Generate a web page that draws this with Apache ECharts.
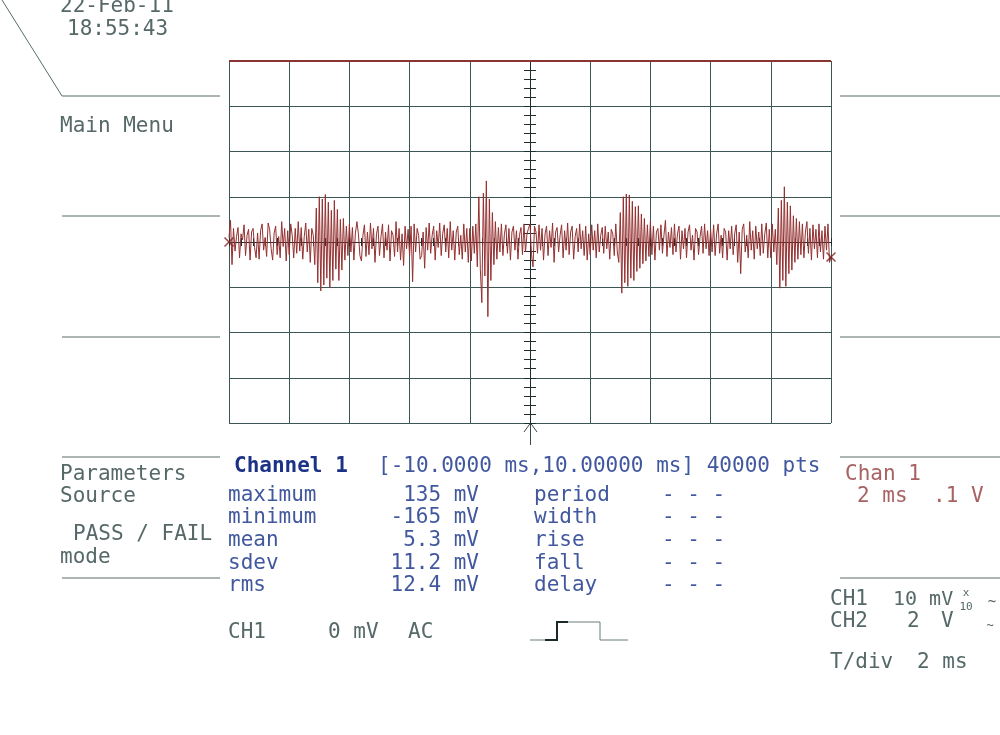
<!DOCTYPE html>
<html>
<head>
<meta charset="utf-8">
<script src="https://cdn.jsdelivr.net/npm/echarts@6/dist/echarts.min.js"></script>
<style>
html,body{margin:0;padding:0;background:#fff;}
#c{width:1000px;height:735px;}
</style>
</head>
<body>
<div id="c"></div>
<script>
// ---- data (mV), one array per 2 ms division, sample step 0.05 ms ----
var tStart = -10;
var tStep = 0.05;
var div1 = [10, 48, -50, 30, -20, 12, 32, -35, 18, 5, 38, -30, 15, 28, -40, 22, 30, -12, -35, 20, -38, 25, 40, -18, 10, -32, 42, 28, -15, -40, 20, 35, -28, 12, -35, 45, -10, 30, -42, 25];
var div2 = [-28, 40, 15, -35, 30, -25, 45, -20, 32, -38, 12, 42, -22, 28, -45, 30, 15, -50, 75, -90, 100, -108, 95, -95, 105, -80, 88, -100, 70, -85, 92, -60, 72, -85, 50, -62, 52, -40, 35, -30];
var div3 = [40, -22, 32, -40, 20, 45, 18, -30, -42, 15, 38, -32, 22, -28, 42, -15, 30, -45, 18, 35, -30, 12, 40, -35, 22, -18, 38, -42, 25, 15, -32, 45, -22, 30, -40, 18, -52, 35, -15, 28];
var div4 = [-30, 35, -88, 40, -22, 30, 15, -38, -30, 22, -58, 32, -18, 42, -25, 15, 35, -40, 25, -12, 42, -30, 18, 38, -22, 30, -35, 45, -18, 25, -40, 22, 35, -28, 15, -38, 40, -22, 30, -45];
var div5 = [30, -42, 35, -25, 40, -55, 100, -60, -134, 108, -75, 135, -165, 95, -85, 65, -50, 45, -38, 32, -22, 40, -30, 18, 38, -25, 30, -40, 22, 35, -18, 25, -38, 15, 32, -28, 40, -22, 18, 30];
var div6 = [40, -28, -55, 35, 22, -25, 38, -18, 30, -40, 18, 35, -30, 25, -12, 42, -45, 22, 32, -22, 15, 38, -35, 25, -18, 42, -28, 22, 35, -38, 12, 30, -22, 40, -15, 25, -30, 35, -40, 18];
var div7 = [-28, 38, -18, 25, -35, 40, -22, 15, 32, -25, 35, -15, 22, -38, 28, 18, -30, 40, -22, -45, 65, -113, 100, -90, 106, -98, 104, -80, 90, -85, 78, -65, 80, -58, 62, -48, 52, -42, 38, -32];
var div8 = [45, -28, 35, -40, 22, 30, -18, 38, -25, 15, 48, -32, 22, -12, 32, -28, 40, -22, 18, 35, -38, 25, -15, 30, -35, 22, 38, -18, 15, -40, 30, 22, -28, 12, 35, -25, 40, -15, 25, -30];
var div9 = [28, -22, 38, -30, 18, 40, -25, 15, -35, 30, 22, -40, 25, -15, 35, -28, 18, 38, -45, 22, -70, 28, 40, -22, 15, -35, 45, -18, 25, -38, 35, -15, 22, -30, 40, -25, 18, 42, -35, 28];
var div10 = [-35, 40, -22, 28, -50, 75, -102, 92, -85, 122, -98, 88, -70, 80, -62, 58, -45, 52, -38, 45, -28, 40, -35, 22, 45, -25, 30, -40, 38, -15, 28, -35, 40, -22, 25, -38, 35, -18, 40, -45, -33];
var ch2Clipped = [[-10, 400], [10, 400]];
var levelMarkers = [[-10, 0], [10, -33]];
var xTicks = {min: -10, max: 10, interval: 2};
var yTicks = {min: -400, max: 400, interval: 100};

var samples = [].concat(div1, div2, div3, div4, div5, div6, div7, div8, div9, div10);
var wave = samples.map(function (v, i) { return [+(tStart + i * tStep).toFixed(3), v]; });

var gridColor = '#3d5656';
var axisColor = '#1e2e2e';
var grayText = '#566868';
var blueText = '#41589e';
var redText = '#a86262';
var FONT = 'DejaVu Sans Mono';

function txt(x, y, s, opt) {
  opt = opt || {};
  return {
    type: 'text', x: x, y: y,
    style: {
      text: s, fill: opt.fill || grayText,
      font: (opt.weight || 'normal') + ' ' + (opt.size || 21) + 'px "' + FONT + '"',
      textVerticalAlign: 'middle', textAlign: opt.align || 'left'
    }
  };
}
function ln(x1, y1, x2, y2, c, w) {
  return {type: 'line', shape: {x1: x1, y1: y1, x2: x2, y2: y2}, style: {stroke: c || '#5a6a6a', lineWidth: w || 1}};
}
function pl(points, c, w) {
  return {type: 'polyline', shape: {points: points}, style: {stroke: c, lineWidth: w, fill: null}};
}

var chart = echarts.init(document.getElementById('c'), null, {renderer: 'canvas'});

function xAx(inside, split) {
  return {
    type: 'value', min: xTicks.min, max: xTicks.max, interval: xTicks.interval, position: 'bottom',
    axisLine: {show: true, onZero: true, onZeroAxisIndex: 0, lineStyle: {color: axisColor, width: 1}},
    axisTick: {show: true, inside: inside, length: 4, lineStyle: {color: axisColor}},
    minorTick: {show: true, splitNumber: 5, length: 4, lineStyle: {color: axisColor}},
    axisLabel: {show: false},
    splitLine: {show: split, lineStyle: {color: gridColor, width: 1}}
  };
}
function yAx(inside, split) {
  return {
    type: 'value', min: yTicks.min, max: yTicks.max, interval: yTicks.interval, position: 'left',
    axisLine: {show: true, onZero: true, onZeroAxisIndex: 0, lineStyle: {color: axisColor, width: 1}},
    axisTick: {show: true, inside: inside, length: 6, lineStyle: {color: axisColor}},
    minorTick: {show: true, splitNumber: 5, length: 6, lineStyle: {color: axisColor}},
    axisLabel: {show: false},
    splitLine: {show: split, lineStyle: {color: gridColor, width: 1}}
  };
}

var graphics = [
  // menu frame lines
  ln(2, 0, 62, 96), ln(62, 96, 220, 96),
  ln(62, 216, 220, 216), ln(62, 337, 220, 337), ln(62, 457, 220, 457), ln(62, 578, 220, 578),
  ln(840, 96, 1000, 96), ln(840, 216, 1000, 216), ln(840, 337, 1000, 337), ln(840, 457, 1000, 457), ln(840, 578, 1000, 578),
  txt(60, 7, '22-Feb-11'), txt(67, 30, '18:55:43'),
  txt(60, 127, 'Main Menu'),
  txt(60, 475, 'Parameters'), txt(60, 497, 'Source'),
  txt(73, 535, 'PASS / FAIL'), txt(60, 558, 'mode'),
  // trigger arrow
  pl([[524, 432], [530.5, 423], [537, 432]], '#3a4a4a', 1),
  ln(530.5, 423, 530.5, 445, '#3a4a4a', 1),
  // parameters block
  txt(234, 467, 'Channel 1', {fill: '#1c3286', weight: 'bold'}),
  txt(378, 467, '[-10.0000 ms,10.00000 ms] 40000 pts', {fill: blueText}),
  txt(228, 496, 'maximum', {fill: blueText}), txt(228, 518, 'minimum', {fill: blueText}),
  txt(228, 541, 'mean', {fill: blueText}), txt(228, 564, 'sdev', {fill: blueText}),
  txt(228, 586, 'rms', {fill: blueText}),
  txt(479, 496, '135 mV', {fill: blueText, align: 'right'}),
  txt(479, 518, '-165 mV', {fill: blueText, align: 'right'}),
  txt(479, 541, '5.3 mV', {fill: blueText, align: 'right'}),
  txt(479, 564, '11.2 mV', {fill: blueText, align: 'right'}),
  txt(479, 586, '12.4 mV', {fill: blueText, align: 'right'}),
  txt(534, 496, 'period', {fill: blueText}), txt(534, 518, 'width', {fill: blueText}),
  txt(534, 541, 'rise', {fill: blueText}), txt(534, 564, 'fall', {fill: blueText}),
  txt(534, 586, 'delay', {fill: blueText}),
  txt(662, 496, '- - -', {fill: blueText}), txt(662, 518, '- - -', {fill: blueText}),
  txt(662, 541, '- - -', {fill: blueText}), txt(662, 564, '- - -', {fill: blueText}),
  txt(662, 586, '- - -', {fill: blueText}),
  txt(228, 633, 'CH1'), txt(328, 633, '0 mV'), txt(408, 633, 'AC'),
  // pulse icon
  pl([[530, 640], [557, 640], [557, 622], [600, 622], [600, 640], [628, 640]], '#6a7a7a', 1),
  pl([[545, 640], [557, 640], [557, 622], [568, 622]], '#1a2a2a', 2),
  // right side
  txt(845, 475, 'Chan 1', {fill: redText}),
  txt(857, 497, '2 ms', {fill: redText}), txt(933, 497, '.1', {fill: redText}), txt(971, 497, 'V', {fill: redText}),
  txt(830, 600, 'CH1'), txt(893, 600, '10 mV', {size: 20}),
  txt(966, 593, 'x', {size: 11, align: 'center'}), txt(966, 607, '10', {size: 11, align: 'center'}),
  txt(992, 602, '~', {size: 14, align: 'center'}),
  txt(830, 622, 'CH2'), txt(907, 622, '2'), txt(941, 622, 'V'),
  txt(990, 626, '~', {size: 12, align: 'center'}),
  txt(830, 663, 'T/div'), txt(917, 663, '2 ms')
];

chart.setOption({
  animation: false,
  backgroundColor: '#ffffff',
  grid: {left: 229, top: 61, width: 602, height: 362, show: false},
  xAxis: [xAx(true, true), xAx(false, false)],
  yAxis: [yAx(true, true), yAx(false, false)],
  series: [
    {
      type: 'line', data: wave, xAxisIndex: 0, yAxisIndex: 0,
      showSymbol: false, symbol: 'none',
      lineStyle: {color: '#943030', width: 1}, z: 5
    },
    {
      type: 'line', data: ch2Clipped, xAxisIndex: 0, yAxisIndex: 0, clip: false,
      showSymbol: false, symbol: 'none',
      lineStyle: {color: '#8a3434', width: 2}, z: 6
    },
    {
      type: 'scatter', data: levelMarkers, xAxisIndex: 0, yAxisIndex: 0, clip: false,
      symbol: 'path://M0,0L10,10M10,0L0,10', symbolSize: 9,
      itemStyle: {color: 'none', borderColor: '#7e1c1c', borderWidth: 1.5}, z: 7
    }
  ],
  graphic: graphics
});
</script>
</body>
</html>
